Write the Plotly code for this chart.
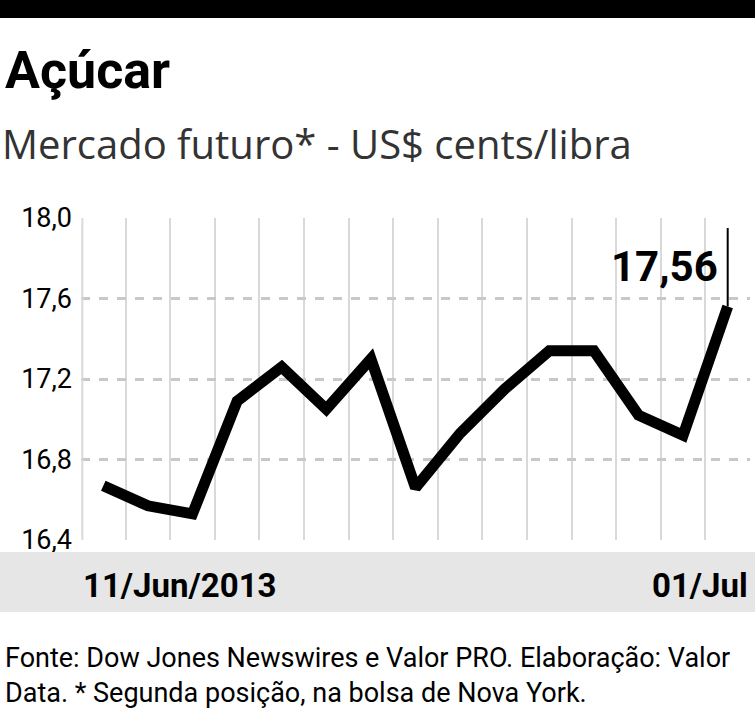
import plotly.graph_objects as go

days = list(range(15))
prices = [16.67, 16.57, 16.53, 17.09, 17.26, 17.05, 17.30, 16.66, 16.93, 17.15, 17.34, 17.34, 17.02, 16.92, 17.56]
y_ticks = [16.4, 16.8, 17.2, 17.6, 18.0]
y_labels = ["16,4", "16,8", "17,2", "17,6", "18,0"]
date_labels = ["11/Jun/2013", "01/Jul"]
last_label = "17,56"

FONT = "Roboto, sans-serif"
H = 322  # plot height in px

fig = go.Figure()
fig.add_trace(go.Scatter(x=days, y=prices, mode="lines",
                         line=dict(color="black", width=11), cliponaxis=False))

# left edge gridline
fig.add_shape(type="line", xref="paper", yref="paper", x0=0.002, x1=0.002, y0=0, y1=1,
              line=dict(color="#d9d9d9", width=2), layer="above")

# annotation line for last value
fig.add_shape(type="line", xref="x", yref="y", x0=days[-1], x1=days[-1],
              y0=prices[-1], y1=17.95, line=dict(color="black", width=2))
fig.add_annotation(x=days[-1], y=17.76, xref="x", yref="y", text="<b>" + last_label + "</b>",
                   showarrow=False, xanchor="right", xshift=-8,
                   font=dict(family=FONT, size=42, color="black"))

# top rule
fig.add_shape(type="rect", xref="paper", yref="paper", x0=-0.2, x1=1.1,
              y0=1 + 200 / H, y1=1 + 230 / H, fillcolor="black", line_width=0)
# gray band
fig.add_shape(type="rect", xref="paper", yref="paper", x0=-0.2, x1=1.1,
              y0=-72 / H, y1=-12 / H, fillcolor="#e6e6e6", line_width=0)

fig.add_annotation(xref="paper", yref="paper", x=-78 / 669, y=(540 - 70) / H,
                   text="<b>Açúcar</b>", showarrow=False, xanchor="left", yanchor="middle",
                   font=dict(family=FONT, size=52, color="black"))
fig.add_annotation(xref="paper", yref="paper", x=-81 / 669, y=(540 - 143) / H,
                   text="Mercado futuro* - US$ cents/libra", showarrow=False,
                   xanchor="left", yanchor="middle",
                   font=dict(family="Open Sans", size=40, color="#333"))
fig.add_annotation(xref="paper", yref="paper", x=0, y=(540 - 585) / H,
                   text="<b>" + date_labels[0] + "</b>", showarrow=False,
                   xanchor="left", yanchor="middle",
                   font=dict(family=FONT, size=33, color="black"))
fig.add_annotation(xref="paper", yref="paper", x=1.0, y=(540 - 585) / H,
                   text="<b>" + date_labels[1] + "</b>", showarrow=False,
                   xanchor="right", yanchor="middle",
                   font=dict(family=FONT, size=33, color="black"))
fig.add_annotation(xref="paper", yref="paper", x=-78 / 669, y=(540 - 675) / H,
                   text="Fonte: Dow Jones Newswires e Valor PRO. Elaboração: Valor<br>"
                        "Data. * Segunda posição, na bolsa de Nova York.",
                   showarrow=False, xanchor="left", yanchor="middle", align="left",
                   font=dict(family=FONT, size=27, color="black"))

fig.update_layout(
    width=755, height=718, margin=dict(l=81, r=5, t=218, b=178),
    paper_bgcolor="white", plot_bgcolor="white", showlegend=False,
    xaxis=dict(range=[-0.5, 14.5], tickvals=[i - 0.5 for i in range(16)],
               showticklabels=False, showgrid=True, gridcolor="#d9d9d9", gridwidth=2,
               zeroline=False, showline=False, ticks="", automargin=False),
    yaxis=dict(range=[16.4, 18.0], tickvals=y_ticks, ticktext=y_labels,
               showgrid=True, gridcolor="#c8c8c8", gridwidth=3, griddash="dash",
               zeroline=False, showline=False, ticks="", automargin=False, ticklabelstandoff=8,
               tickfont=dict(family=FONT, size=27, color="black")),
)
fig.write_html("out.html", config={"displayModeBar": False},
               post_script="document.body.style.margin='0';")
